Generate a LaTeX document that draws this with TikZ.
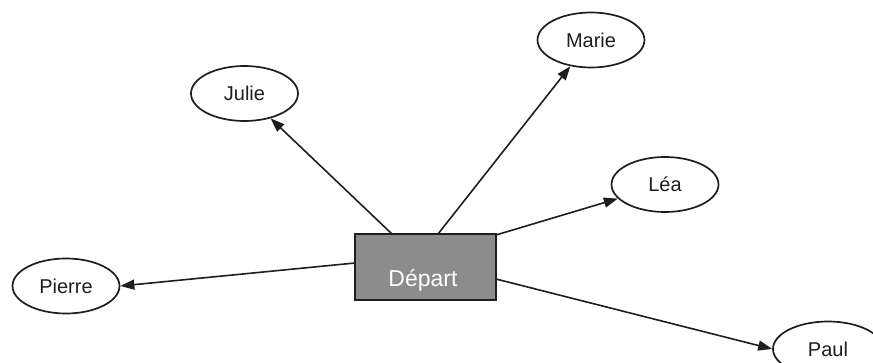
\documentclass[tikz,border=0pt]{standalone}
\usepackage{fontspec}
\setmainfont{Liberation Sans}
\usetikzlibrary{arrows.meta,shapes.geometric}
\definecolor{boxgray}{HTML}{8C8C8C}
\definecolor{inkc}{HTML}{1E1E1E}
\begin{document}
\begin{tikzpicture}[x=1pt,y=-1pt,
  person/.style={draw=inkc,line width=1.7pt,ellipse,minimum width=107pt,minimum height=55pt,inner sep=0pt,font=\fontsize{20}{22}\selectfont,text=inkc},
  startbox/.style={draw=inkc,line width=1.8pt,fill=boxgray,minimum width=141pt,minimum height=66pt,inner sep=0pt},
  boxlabel/.style={font=\fontsize{23}{26}\selectfont,text=white,inner sep=0pt},
  link/.style={draw=inkc,line width=1.6pt,-{Triangle[length=14pt,width=10pt]}}]
\clip (0,0) rectangle (873,363);
\fill[white] (0,0) rectangle (873,363);
\node[startbox] (dep) at (425.5,267) {};
\node[boxlabel] (deplabel) at (423,280) {Départ};
\node[person] (julie) at (244.5,93.5) {Julie};
\node[person] (marie) at (591,40) {Marie};
\node[person] (lea) at (665,184.5) {Léa};
\node[person] (pierre) at (66,286) {Pierre};
\node[person,minimum width=110pt] (paul) at (828,349) {Paul};
\coordinate (sJ) at (392,234);
\coordinate (sM) at (438,234);
\coordinate (sL) at (496,235);
\coordinate (sP) at (496,279);
\coordinate (sPi) at (355,263);
\draw[link] (sJ) -- (julie);
\draw[link] (sM) -- (marie);
\draw[link] (sL) -- (lea);
\draw[link] (sP) -- (paul.west);
\draw[link] (sPi) -- (pierre.east);
\end{tikzpicture}
\end{document}
